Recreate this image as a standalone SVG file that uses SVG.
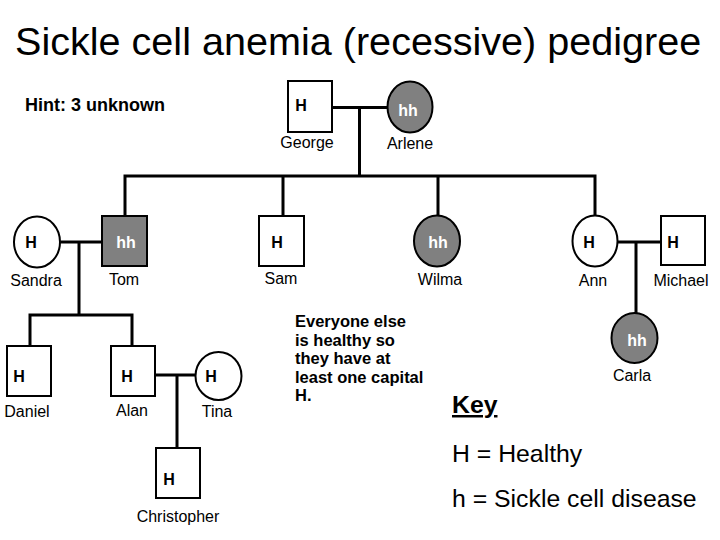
<svg xmlns="http://www.w3.org/2000/svg" width="720" height="540" viewBox="0 0 720 540">
<style>
.sh{fill:#fff;stroke:#000;stroke-width:2}
.af{fill:#808080;stroke:#000;stroke-width:2}
.g{font-family:"Liberation Sans",Arial,sans-serif;font-weight:bold;font-size:16px;fill:#000}
.gw{font-family:"Liberation Sans",Arial,sans-serif;font-weight:bold;font-size:16px;fill:#fff}
.nm{font-family:"Liberation Sans",Arial,sans-serif;font-size:16px;fill:#000;text-anchor:middle}
.ln{stroke:#000;stroke-width:3;fill:none;stroke-linecap:square}
.t{font-family:"Liberation Sans",Arial,sans-serif;fill:#000}
</style>
<rect width="720" height="540" fill="#fff"/>
<text class="t" x="15" y="55" font-size="39.6">Sickle cell anemia (recessive) pedigree</text>
<text class="t" x="25" y="111" font-size="18" font-weight="bold">Hint: 3 unknown</text>
<g id="connectors">
<path class="ln" d="M333 107.5H387M359.5 107.5V176M125 176H595M125 176V215M283 176V215M438 176V214M595 176V214"/>
<path class="ln" d="M62 242H101M79 242V315M30 315H132M30 315V345M132 315V345"/>
<path class="ln" d="M156 375H194M177 375V447"/>
<path class="ln" d="M618 242H660M636 242V312"/>
</g>
<g id="george"><rect class="sh" x="288" y="81" width="44" height="51"/><text class="g" x="301" y="111" text-anchor="middle">H</text><text class="nm" x="307" y="148">George</text></g>
<g id="arlene"><ellipse class="af" cx="410" cy="107" rx="22.5" ry="25.5"/><text class="gw" x="408" y="116" text-anchor="middle">hh</text><text class="nm" x="410" y="149">Arlene</text></g>
<g id="sandra"><ellipse class="sh" cx="37" cy="242" rx="23" ry="25.5"/><text class="g" x="31" y="248" text-anchor="middle">H</text><text class="nm" x="36" y="286">Sandra</text></g>
<g id="tom"><rect class="af" x="102" y="216" width="45" height="50"/><text class="gw" x="126" y="248" text-anchor="middle">hh</text><text class="nm" x="124" y="285">Tom</text></g>
<g id="sam"><rect class="sh" x="259" y="216" width="45" height="50"/><text class="g" x="277" y="248" text-anchor="middle">H</text><text class="nm" x="281" y="284">Sam</text></g>
<g id="wilma"><ellipse class="af" cx="437" cy="241" rx="23" ry="25.5"/><text class="gw" x="438" y="248" text-anchor="middle">hh</text><text class="nm" x="440" y="285">Wilma</text></g>
<g id="ann"><ellipse class="sh" cx="595" cy="241" rx="22.5" ry="25.5"/><text class="g" x="589" y="248" text-anchor="middle">H</text><text class="nm" x="593" y="286">Ann</text></g>
<g id="michael"><rect class="sh" x="661" y="216" width="44" height="49"/><text class="g" x="673" y="248" text-anchor="middle">H</text><text class="nm" x="681" y="286">Michael</text></g>
<g id="daniel"><rect class="sh" x="7" y="346" width="44" height="50"/><text class="g" x="19" y="382" text-anchor="middle">H</text><text class="nm" x="27" y="417">Daniel</text></g>
<g id="alan"><rect class="sh" x="111" y="346" width="44" height="50"/><text class="g" x="127" y="382" text-anchor="middle">H</text><text class="nm" x="132" y="416">Alan</text></g>
<g id="tina"><ellipse class="sh" cx="218.5" cy="376" rx="23" ry="24"/><text class="g" x="211" y="382" text-anchor="middle">H</text><text class="nm" x="217" y="417">Tina</text></g>
<g id="christopher"><rect class="sh" x="156" y="448" width="44" height="50"/><text class="g" x="169" y="485" text-anchor="middle">H</text><text class="nm" x="178" y="522">Christopher</text></g>
<g id="carla"><ellipse class="af" cx="634.5" cy="338" rx="23" ry="25"/><text class="gw" x="637" y="346" text-anchor="middle">hh</text><text class="nm" x="632" y="381">Carla</text></g>
<g id="note" class="t" font-size="16.5" font-weight="bold">
<text x="295" y="327">Everyone else</text>
<text x="295" y="345.5">is healthy so</text>
<text x="295" y="364">they have at</text>
<text x="295" y="382.5">least one capital</text>
<text x="295" y="401">H.</text>
</g>
<g id="key" class="t" font-size="24.8">
<text x="452" y="413" font-weight="bold" text-decoration="underline">Key</text>
<text x="452" y="462">H = Healthy</text>
<text x="452" y="507">h = Sickle cell disease</text>
</g>
</svg>
